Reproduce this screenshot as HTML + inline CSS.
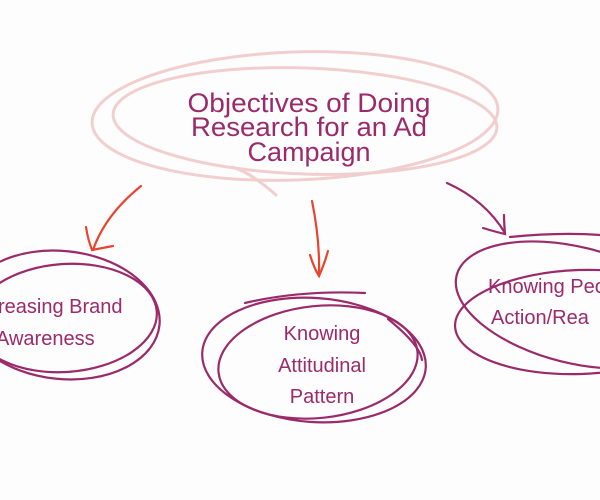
<!DOCTYPE html>
<html><head><style>
html,body{margin:0;padding:0;background:#fdfdfd;}
svg{display:block;}
text{font-family:"Liberation Sans",sans-serif;fill:#9b2a6b;}
</style></head><body>
<svg width="600" height="500" viewBox="0 0 600 500" xmlns="http://www.w3.org/2000/svg">
<rect width="600" height="500" fill="#fdfdfd"/>
<g fill="none" stroke="#f2cfcf" stroke-width="3" stroke-linecap="round">
<ellipse cx="295" cy="116" rx="203" ry="64" transform="rotate(-2 295 116)"/>
<ellipse cx="305" cy="121" rx="192" ry="53" transform="rotate(2 305 121)"/>
<path d="M232 167 Q250 172 276 195"/>
</g>
<g font-size="27" text-anchor="middle">
<text x="309" y="112" textLength="243" lengthAdjust="spacingAndGlyphs">Objectives of Doing</text>
<text x="309" y="136" textLength="236" lengthAdjust="spacingAndGlyphs">Research for an Ad</text>
<text x="309" y="161">Campaign</text>
</g>
<g fill="none" stroke="#e8452f" stroke-width="2.2" stroke-linecap="round">
<path d="M141 186 Q105 215 93 250"/>
<path d="M86 227 Q88 240 92 250 L113 246"/>
<path d="M312 201 Q320 240 319 275"/>
<path d="M310 255 Q314 268 319 276 Q324 265 328 251"/>
</g>
<g fill="none" stroke="#9b2a6b" stroke-width="2.2" stroke-linecap="round">
<path d="M447 183 Q485 200 505 233"/>
<path d="M483 228 Q496 232 505 234 Q504 222 504 215"/>
<path d="M510 237 Q560 232 600 235"/>
</g>
<g fill="none" stroke="#9b2a6b" stroke-width="2.2" stroke-linecap="round">
<ellipse cx="62" cy="315" rx="98" ry="64" transform="rotate(6 62 315)"/>
<ellipse cx="65" cy="318" rx="92" ry="54" transform="rotate(-4 65 318)"/>
<ellipse cx="314" cy="360" rx="112" ry="62" transform="rotate(4 314 360)"/>
<ellipse cx="318" cy="362" rx="100" ry="56" transform="rotate(-6 318 362)"/>
<path d="M245 303 Q300 290 365 293"/>
<path d="M388 319 Q420 345 422 360"/>
<ellipse cx="575" cy="305" rx="122" ry="58" transform="rotate(14 575 305)"/>
<ellipse cx="580" cy="322" rx="125" ry="52" transform="rotate(-2 580 322)"/>
</g>
<g font-size="20">
<text x="-2" y="313">reasing Brand</text>
<text x="-4" y="345">Awareness</text>
<text x="322" y="340" text-anchor="middle">Knowing</text>
<text x="322" y="372" text-anchor="middle">Attitudinal</text>
<text x="322" y="403" text-anchor="middle">Pattern</text>
<text x="488" y="293">Knowing Peo</text>
<text x="491" y="324">Action/Rea</text>
</g>
</svg>
</body></html>
